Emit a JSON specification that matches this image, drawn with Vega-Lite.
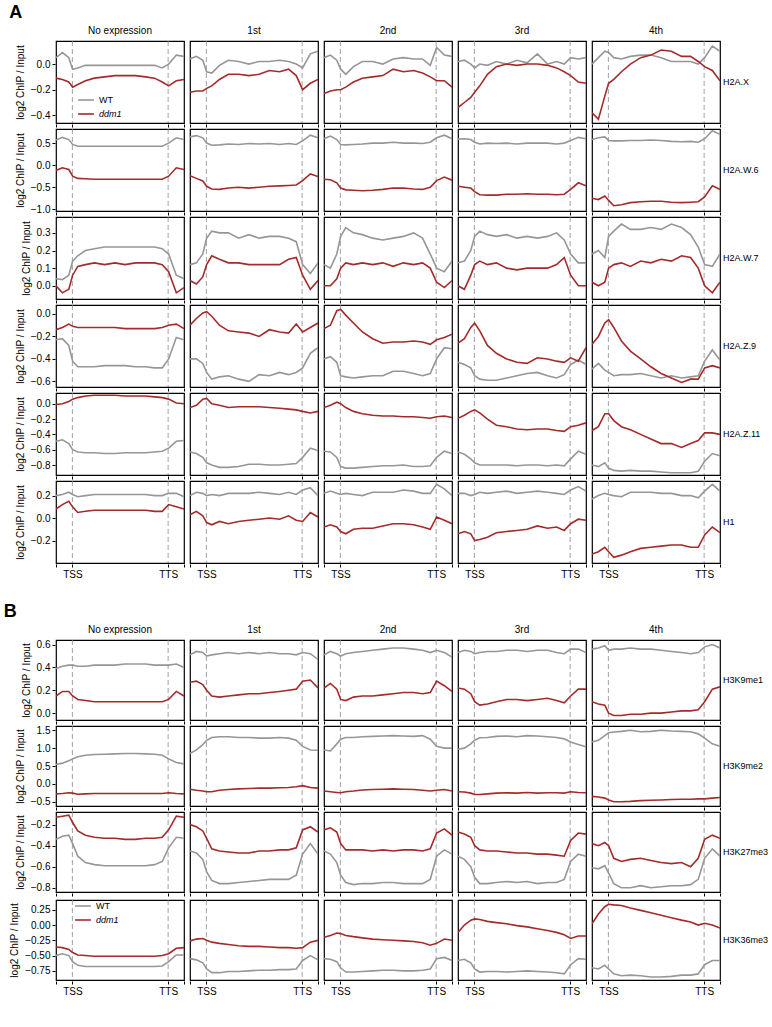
{
"$schema":"https://vega.github.io/schema/vega-lite/v6.json",
"padding":{"left":3,"top":4,"right":0,"bottom":0},
"data":{"values":[
{"m":"H2A.X","g":"WT","x":0,"n":0.05,"a":0.04,"b":0.05,"c":0.02,"d":0},
{"m":"H2A.X","g":"WT","x":5,"n":0.09,"a":0.06,"b":0.07,"c":0.03,"d":0.05},
{"m":"H2A.X","g":"WT","x":10,"n":0.05,"a":0.03,"b":0.03,"c":0,"d":0.1},
{"m":"H2A.X","g":"WT","x":13,"n":-0.04,"a":-0.06,"b":-0.04,"c":-0.03,"d":0.09},
{"m":"H2A.X","g":"WT","x":17,"n":-0.03,"a":-0.07,"b":-0.08,"c":0,"d":0.05},
{"m":"H2A.X","g":"WT","x":23,"n":-0.01,"a":-0.01,"b":-0.02,"c":-0.01,"d":0.04},
{"m":"H2A.X","g":"WT","x":30,"n":-0.01,"a":0.03,"b":0.02,"c":0.02,"d":0.06},
{"m":"H2A.X","g":"WT","x":38,"n":-0.01,"a":0.02,"b":0.02,"c":0,"d":0.07},
{"m":"H2A.X","g":"WT","x":46,"n":-0.01,"a":0,"b":0,"c":0.03,"d":0.07},
{"m":"H2A.X","g":"WT","x":54,"n":-0.01,"a":0.02,"b":0.04,"c":0.01,"d":0.05},
{"m":"H2A.X","g":"WT","x":62,"n":-0.01,"a":0.02,"b":0.05,"c":0.08,"d":0.02},
{"m":"H2A.X","g":"WT","x":70,"n":-0.01,"a":0.03,"b":0.04,"c":0,"d":0.02},
{"m":"H2A.X","g":"WT","x":77,"n":-0.01,"a":0.02,"b":0.04,"c":0.02,"d":0.02},
{"m":"H2A.X","g":"WT","x":83,"n":-0.03,"a":0,"b":-0.01,"c":0,"d":0},
{"m":"H2A.X","g":"WT","x":88,"n":0,"a":-0.03,"b":0.13,"c":0.05,"d":0.05},
{"m":"H2A.X","g":"WT","x":94,"n":0.07,"a":0.08,"b":0.07,"c":0.04,"d":0.14},
{"m":"H2A.X","g":"WT","x":100,"n":0.06,"a":0.1,"b":0.06,"c":0.05,"d":0.1},
{"m":"H2A.X","g":"ddm1","x":0,"n":-0.11,"a":-0.22,"b":-0.23,"c":-0.34,"d":-0.38},
{"m":"H2A.X","g":"ddm1","x":5,"n":-0.12,"a":-0.21,"b":-0.21,"c":-0.3,"d":-0.43},
{"m":"H2A.X","g":"ddm1","x":10,"n":-0.14,"a":-0.21,"b":-0.2,"c":-0.26,"d":-0.25},
{"m":"H2A.X","g":"ddm1","x":13,"n":-0.18,"a":-0.19,"b":-0.2,"c":-0.22,"d":-0.15},
{"m":"H2A.X","g":"ddm1","x":17,"n":-0.16,"a":-0.17,"b":-0.18,"c":-0.17,"d":-0.12},
{"m":"H2A.X","g":"ddm1","x":23,"n":-0.13,"a":-0.12,"b":-0.14,"c":-0.08,"d":-0.06},
{"m":"H2A.X","g":"ddm1","x":30,"n":-0.11,"a":-0.08,"b":-0.11,"c":-0.02,"d":0},
{"m":"H2A.X","g":"ddm1","x":38,"n":-0.1,"a":-0.08,"b":-0.1,"c":0,"d":0.05},
{"m":"H2A.X","g":"ddm1","x":46,"n":-0.09,"a":-0.09,"b":-0.09,"c":-0.01,"d":0.07},
{"m":"H2A.X","g":"ddm1","x":54,"n":-0.09,"a":-0.08,"b":-0.04,"c":0,"d":0.11},
{"m":"H2A.X","g":"ddm1","x":62,"n":-0.09,"a":-0.05,"b":-0.06,"c":0,"d":0.1},
{"m":"H2A.X","g":"ddm1","x":70,"n":-0.1,"a":-0.06,"b":-0.05,"c":-0.01,"d":0.06},
{"m":"H2A.X","g":"ddm1","x":77,"n":-0.11,"a":-0.04,"b":-0.07,"c":-0.03,"d":0.06},
{"m":"H2A.X","g":"ddm1","x":83,"n":-0.14,"a":-0.09,"b":-0.1,"c":-0.06,"d":0.02},
{"m":"H2A.X","g":"ddm1","x":88,"n":-0.17,"a":-0.2,"b":-0.13,"c":-0.09,"d":-0.02},
{"m":"H2A.X","g":"ddm1","x":94,"n":-0.13,"a":-0.15,"b":-0.13,"c":-0.14,"d":-0.05},
{"m":"H2A.X","g":"ddm1","x":100,"n":-0.12,"a":-0.12,"b":-0.18,"c":-0.15,"d":-0.13},
{"m":"H2A.W.6","g":"WT","x":0,"n":0.57,"a":0.64,"b":0.6,"c":0.59,"d":0.58},
{"m":"H2A.W.6","g":"WT","x":5,"n":0.63,"a":0.67,"b":0.66,"c":0.6,"d":0.62},
{"m":"H2A.W.6","g":"WT","x":10,"n":0.58,"a":0.62,"b":0.58,"c":0.58,"d":0.64},
{"m":"H2A.W.6","g":"WT","x":13,"n":0.47,"a":0.5,"b":0.47,"c":0.52,"d":0.56},
{"m":"H2A.W.6","g":"WT","x":17,"n":0.43,"a":0.45,"b":0.46,"c":0.48,"d":0.55},
{"m":"H2A.W.6","g":"WT","x":23,"n":0.43,"a":0.46,"b":0.47,"c":0.5,"d":0.55},
{"m":"H2A.W.6","g":"WT","x":30,"n":0.43,"a":0.48,"b":0.48,"c":0.49,"d":0.56},
{"m":"H2A.W.6","g":"WT","x":38,"n":0.43,"a":0.47,"b":0.5,"c":0.5,"d":0.56},
{"m":"H2A.W.6","g":"WT","x":46,"n":0.43,"a":0.49,"b":0.5,"c":0.48,"d":0.57},
{"m":"H2A.W.6","g":"WT","x":54,"n":0.43,"a":0.48,"b":0.52,"c":0.5,"d":0.56},
{"m":"H2A.W.6","g":"WT","x":62,"n":0.43,"a":0.49,"b":0.5,"c":0.5,"d":0.54},
{"m":"H2A.W.6","g":"WT","x":70,"n":0.43,"a":0.47,"b":0.5,"c":0.5,"d":0.53},
{"m":"H2A.W.6","g":"WT","x":77,"n":0.43,"a":0.49,"b":0.49,"c":0.48,"d":0.54},
{"m":"H2A.W.6","g":"WT","x":83,"n":0.43,"a":0.47,"b":0.52,"c":0.5,"d":0.52},
{"m":"H2A.W.6","g":"WT","x":88,"n":0.5,"a":0.55,"b":0.62,"c":0.56,"d":0.6},
{"m":"H2A.W.6","g":"WT","x":94,"n":0.62,"a":0.68,"b":0.68,"c":0.63,"d":0.78},
{"m":"H2A.W.6","g":"WT","x":100,"n":0.58,"a":0.62,"b":0.6,"c":0.6,"d":0.7},
{"m":"H2A.W.6","g":"ddm1","x":0,"n":-0.12,"a":-0.24,"b":-0.32,"c":-0.48,"d":-0.75},
{"m":"H2A.W.6","g":"ddm1","x":5,"n":-0.06,"a":-0.3,"b":-0.33,"c":-0.5,"d":-0.78},
{"m":"H2A.W.6","g":"ddm1","x":10,"n":-0.1,"a":-0.36,"b":-0.4,"c":-0.52,"d":-0.7},
{"m":"H2A.W.6","g":"ddm1","x":13,"n":-0.25,"a":-0.48,"b":-0.52,"c":-0.6,"d":-0.8},
{"m":"H2A.W.6","g":"ddm1","x":17,"n":-0.3,"a":-0.54,"b":-0.56,"c":-0.67,"d":-0.92},
{"m":"H2A.W.6","g":"ddm1","x":23,"n":-0.31,"a":-0.55,"b":-0.57,"c":-0.68,"d":-0.9},
{"m":"H2A.W.6","g":"ddm1","x":30,"n":-0.32,"a":-0.52,"b":-0.58,"c":-0.68,"d":-0.85},
{"m":"H2A.W.6","g":"ddm1","x":38,"n":-0.32,"a":-0.5,"b":-0.57,"c":-0.66,"d":-0.83},
{"m":"H2A.W.6","g":"ddm1","x":46,"n":-0.32,"a":-0.52,"b":-0.55,"c":-0.66,"d":-0.82},
{"m":"H2A.W.6","g":"ddm1","x":54,"n":-0.32,"a":-0.5,"b":-0.52,"c":-0.65,"d":-0.82},
{"m":"H2A.W.6","g":"ddm1","x":62,"n":-0.32,"a":-0.48,"b":-0.52,"c":-0.66,"d":-0.84},
{"m":"H2A.W.6","g":"ddm1","x":70,"n":-0.32,"a":-0.47,"b":-0.54,"c":-0.66,"d":-0.85},
{"m":"H2A.W.6","g":"ddm1","x":77,"n":-0.32,"a":-0.46,"b":-0.55,"c":-0.67,"d":-0.84},
{"m":"H2A.W.6","g":"ddm1","x":83,"n":-0.32,"a":-0.45,"b":-0.5,"c":-0.66,"d":-0.83},
{"m":"H2A.W.6","g":"ddm1","x":88,"n":-0.25,"a":-0.35,"b":-0.35,"c":-0.55,"d":-0.72},
{"m":"H2A.W.6","g":"ddm1","x":94,"n":-0.06,"a":-0.2,"b":-0.27,"c":-0.4,"d":-0.47},
{"m":"H2A.W.6","g":"ddm1","x":100,"n":-0.1,"a":-0.26,"b":-0.34,"c":-0.47,"d":-0.55},
{"m":"H2A.W.7","g":"WT","x":0,"n":0.04,"a":0.12,"b":0.12,"c":0.13,"d":0.18},
{"m":"H2A.W.7","g":"WT","x":5,"n":0.035,"a":0.13,"b":0.1,"c":0.14,"d":0.2},
{"m":"H2A.W.7","g":"WT","x":10,"n":0.06,"a":0.18,"b":0.18,"c":0.2,"d":0.16},
{"m":"H2A.W.7","g":"WT","x":13,"n":0.14,"a":0.27,"b":0.28,"c":0.28,"d":0.28},
{"m":"H2A.W.7","g":"WT","x":17,"n":0.17,"a":0.31,"b":0.33,"c":0.31,"d":0.31},
{"m":"H2A.W.7","g":"WT","x":23,"n":0.2,"a":0.3,"b":0.3,"c":0.29,"d":0.35},
{"m":"H2A.W.7","g":"WT","x":30,"n":0.21,"a":0.3,"b":0.29,"c":0.28,"d":0.32},
{"m":"H2A.W.7","g":"WT","x":38,"n":0.22,"a":0.27,"b":0.27,"c":0.29,"d":0.32},
{"m":"H2A.W.7","g":"WT","x":46,"n":0.22,"a":0.29,"b":0.26,"c":0.27,"d":0.33},
{"m":"H2A.W.7","g":"WT","x":54,"n":0.22,"a":0.27,"b":0.27,"c":0.28,"d":0.32},
{"m":"H2A.W.7","g":"WT","x":62,"n":0.22,"a":0.28,"b":0.28,"c":0.27,"d":0.35},
{"m":"H2A.W.7","g":"WT","x":70,"n":0.22,"a":0.28,"b":0.3,"c":0.28,"d":0.33},
{"m":"H2A.W.7","g":"WT","x":77,"n":0.22,"a":0.27,"b":0.27,"c":0.3,"d":0.29},
{"m":"H2A.W.7","g":"WT","x":83,"n":0.21,"a":0.25,"b":0.18,"c":0.26,"d":0.22},
{"m":"H2A.W.7","g":"WT","x":88,"n":0.18,"a":0.12,"b":0.1,"c":0.18,"d":0.12},
{"m":"H2A.W.7","g":"WT","x":94,"n":0.06,"a":0.07,"b":0.08,"c":0.13,"d":0.11},
{"m":"H2A.W.7","g":"WT","x":100,"n":0.04,"a":0.13,"b":0.14,"c":0.13,"d":0.18},
{"m":"H2A.W.7","g":"ddm1","x":0,"n":0,"a":0.03,"b":0,"c":0,"d":0.02},
{"m":"H2A.W.7","g":"ddm1","x":5,"n":-0.04,"a":0.01,"b":0,"c":-0.02,"d":0},
{"m":"H2A.W.7","g":"ddm1","x":10,"n":-0.02,"a":0.05,"b":0.04,"c":0.06,"d":0.02},
{"m":"H2A.W.7","g":"ddm1","x":13,"n":0.06,"a":0.12,"b":0.1,"c":0.12,"d":0.1},
{"m":"H2A.W.7","g":"ddm1","x":17,"n":0.11,"a":0.17,"b":0.13,"c":0.14,"d":0.12},
{"m":"H2A.W.7","g":"ddm1","x":23,"n":0.12,"a":0.15,"b":0.12,"c":0.12,"d":0.13},
{"m":"H2A.W.7","g":"ddm1","x":30,"n":0.13,"a":0.13,"b":0.13,"c":0.13,"d":0.11},
{"m":"H2A.W.7","g":"ddm1","x":38,"n":0.12,"a":0.13,"b":0.12,"c":0.1,"d":0.14},
{"m":"H2A.W.7","g":"ddm1","x":46,"n":0.13,"a":0.12,"b":0.13,"c":0.09,"d":0.13},
{"m":"H2A.W.7","g":"ddm1","x":54,"n":0.12,"a":0.12,"b":0.11,"c":0.1,"d":0.15},
{"m":"H2A.W.7","g":"ddm1","x":62,"n":0.13,"a":0.12,"b":0.13,"c":0.1,"d":0.14},
{"m":"H2A.W.7","g":"ddm1","x":70,"n":0.13,"a":0.12,"b":0.12,"c":0.1,"d":0.17},
{"m":"H2A.W.7","g":"ddm1","x":77,"n":0.13,"a":0.15,"b":0.13,"c":0.12,"d":0.16},
{"m":"H2A.W.7","g":"ddm1","x":83,"n":0.12,"a":0.16,"b":0.1,"c":0.16,"d":0.1},
{"m":"H2A.W.7","g":"ddm1","x":88,"n":0.08,"a":0.06,"b":0.02,"c":0.06,"d":0},
{"m":"H2A.W.7","g":"ddm1","x":94,"n":-0.04,"a":-0.02,"b":-0.01,"c":0,"d":-0.04},
{"m":"H2A.W.7","g":"ddm1","x":100,"n":-0.01,"a":0.03,"b":0.03,"c":0,"d":0.02},
{"m":"H2A.Z.9","g":"WT","x":0,"n":-0.23,"a":-0.4,"b":-0.4,"c":-0.43,"d":-0.49},
{"m":"H2A.Z.9","g":"WT","x":5,"n":-0.22,"a":-0.4,"b":-0.38,"c":-0.45,"d":-0.44},
{"m":"H2A.Z.9","g":"WT","x":10,"n":-0.28,"a":-0.44,"b":-0.43,"c":-0.48,"d":-0.5},
{"m":"H2A.Z.9","g":"WT","x":13,"n":-0.42,"a":-0.52,"b":-0.55,"c":-0.55,"d":-0.52},
{"m":"H2A.Z.9","g":"WT","x":17,"n":-0.47,"a":-0.58,"b":-0.56,"c":-0.58,"d":-0.55},
{"m":"H2A.Z.9","g":"WT","x":23,"n":-0.47,"a":-0.56,"b":-0.57,"c":-0.59,"d":-0.54},
{"m":"H2A.Z.9","g":"WT","x":30,"n":-0.47,"a":-0.55,"b":-0.56,"c":-0.59,"d":-0.54},
{"m":"H2A.Z.9","g":"WT","x":38,"n":-0.46,"a":-0.58,"b":-0.55,"c":-0.57,"d":-0.53},
{"m":"H2A.Z.9","g":"WT","x":46,"n":-0.46,"a":-0.6,"b":-0.55,"c":-0.55,"d":-0.55},
{"m":"H2A.Z.9","g":"WT","x":54,"n":-0.46,"a":-0.54,"b":-0.51,"c":-0.53,"d":-0.57},
{"m":"H2A.Z.9","g":"WT","x":62,"n":-0.47,"a":-0.55,"b":-0.51,"c":-0.52,"d":-0.55},
{"m":"H2A.Z.9","g":"WT","x":70,"n":-0.47,"a":-0.52,"b":-0.53,"c":-0.55,"d":-0.57},
{"m":"H2A.Z.9","g":"WT","x":77,"n":-0.48,"a":-0.54,"b":-0.55,"c":-0.57,"d":-0.56},
{"m":"H2A.Z.9","g":"WT","x":83,"n":-0.48,"a":-0.52,"b":-0.53,"c":-0.54,"d":-0.55},
{"m":"H2A.Z.9","g":"WT","x":88,"n":-0.4,"a":-0.48,"b":-0.4,"c":-0.45,"d":-0.42},
{"m":"H2A.Z.9","g":"WT","x":94,"n":-0.21,"a":-0.35,"b":-0.3,"c":-0.41,"d":-0.32},
{"m":"H2A.Z.9","g":"WT","x":100,"n":-0.23,"a":-0.3,"b":-0.31,"c":-0.45,"d":-0.41},
{"m":"H2A.Z.9","g":"ddm1","x":0,"n":-0.14,"a":-0.1,"b":-0.13,"c":-0.26,"d":-0.27},
{"m":"H2A.Z.9","g":"ddm1","x":5,"n":-0.12,"a":-0.04,"b":-0.1,"c":-0.22,"d":-0.2},
{"m":"H2A.Z.9","g":"ddm1","x":10,"n":-0.09,"a":0.01,"b":0.03,"c":-0.12,"d":-0.08},
{"m":"H2A.Z.9","g":"ddm1","x":13,"n":-0.11,"a":0.02,"b":0.04,"c":-0.08,"d":-0.05},
{"m":"H2A.Z.9","g":"ddm1","x":17,"n":-0.12,"a":-0.02,"b":-0.01,"c":-0.15,"d":-0.12},
{"m":"H2A.Z.9","g":"ddm1","x":23,"n":-0.12,"a":-0.1,"b":-0.08,"c":-0.28,"d":-0.24},
{"m":"H2A.Z.9","g":"ddm1","x":30,"n":-0.12,"a":-0.15,"b":-0.16,"c":-0.35,"d":-0.33},
{"m":"H2A.Z.9","g":"ddm1","x":38,"n":-0.12,"a":-0.16,"b":-0.22,"c":-0.4,"d":-0.4},
{"m":"H2A.Z.9","g":"ddm1","x":46,"n":-0.12,"a":-0.17,"b":-0.26,"c":-0.43,"d":-0.47},
{"m":"H2A.Z.9","g":"ddm1","x":54,"n":-0.13,"a":-0.2,"b":-0.25,"c":-0.44,"d":-0.53},
{"m":"H2A.Z.9","g":"ddm1","x":62,"n":-0.13,"a":-0.14,"b":-0.25,"c":-0.39,"d":-0.57},
{"m":"H2A.Z.9","g":"ddm1","x":70,"n":-0.13,"a":-0.16,"b":-0.24,"c":-0.4,"d":-0.61},
{"m":"H2A.Z.9","g":"ddm1","x":77,"n":-0.13,"a":-0.17,"b":-0.25,"c":-0.42,"d":-0.58},
{"m":"H2A.Z.9","g":"ddm1","x":83,"n":-0.12,"a":-0.09,"b":-0.27,"c":-0.43,"d":-0.58},
{"m":"H2A.Z.9","g":"ddm1","x":88,"n":-0.1,"a":-0.16,"b":-0.23,"c":-0.39,"d":-0.48},
{"m":"H2A.Z.9","g":"ddm1","x":94,"n":-0.09,"a":-0.12,"b":-0.21,"c":-0.42,"d":-0.46},
{"m":"H2A.Z.9","g":"ddm1","x":100,"n":-0.13,"a":-0.08,"b":-0.18,"c":-0.3,"d":-0.48},
{"m":"H2A.Z.11","g":"WT","x":0,"n":-0.49,"a":-0.63,"b":-0.62,"c":-0.63,"d":-0.8},
{"m":"H2A.Z.11","g":"WT","x":5,"n":-0.47,"a":-0.65,"b":-0.63,"c":-0.66,"d":-0.82},
{"m":"H2A.Z.11","g":"WT","x":10,"n":-0.52,"a":-0.7,"b":-0.7,"c":-0.72,"d":-0.77},
{"m":"H2A.Z.11","g":"WT","x":13,"n":-0.6,"a":-0.77,"b":-0.82,"c":-0.77,"d":-0.84},
{"m":"H2A.Z.11","g":"WT","x":17,"n":-0.63,"a":-0.8,"b":-0.84,"c":-0.8,"d":-0.87},
{"m":"H2A.Z.11","g":"WT","x":23,"n":-0.64,"a":-0.83,"b":-0.84,"c":-0.8,"d":-0.88},
{"m":"H2A.Z.11","g":"WT","x":30,"n":-0.64,"a":-0.83,"b":-0.83,"c":-0.8,"d":-0.87},
{"m":"H2A.Z.11","g":"WT","x":38,"n":-0.65,"a":-0.82,"b":-0.82,"c":-0.8,"d":-0.88},
{"m":"H2A.Z.11","g":"WT","x":46,"n":-0.65,"a":-0.79,"b":-0.81,"c":-0.81,"d":-0.88},
{"m":"H2A.Z.11","g":"WT","x":54,"n":-0.64,"a":-0.79,"b":-0.81,"c":-0.8,"d":-0.89},
{"m":"H2A.Z.11","g":"WT","x":62,"n":-0.64,"a":-0.8,"b":-0.8,"c":-0.8,"d":-0.9},
{"m":"H2A.Z.11","g":"WT","x":70,"n":-0.64,"a":-0.8,"b":-0.82,"c":-0.81,"d":-0.9},
{"m":"H2A.Z.11","g":"WT","x":77,"n":-0.63,"a":-0.79,"b":-0.82,"c":-0.8,"d":-0.9},
{"m":"H2A.Z.11","g":"WT","x":83,"n":-0.62,"a":-0.78,"b":-0.81,"c":-0.81,"d":-0.88},
{"m":"H2A.Z.11","g":"WT","x":88,"n":-0.58,"a":-0.7,"b":-0.7,"c":-0.72,"d":-0.75},
{"m":"H2A.Z.11","g":"WT","x":94,"n":-0.49,"a":-0.58,"b":-0.62,"c":-0.62,"d":-0.65},
{"m":"H2A.Z.11","g":"WT","x":100,"n":-0.48,"a":-0.61,"b":-0.65,"c":-0.66,"d":-0.68},
{"m":"H2A.Z.11","g":"ddm1","x":0,"n":-0.01,"a":-0.05,"b":-0.05,"c":-0.19,"d":-0.35},
{"m":"H2A.Z.11","g":"ddm1","x":5,"n":0,"a":-0.02,"b":-0.02,"c":-0.15,"d":-0.3},
{"m":"H2A.Z.11","g":"ddm1","x":10,"n":0.03,"a":0.06,"b":0.02,"c":-0.1,"d":-0.13},
{"m":"H2A.Z.11","g":"ddm1","x":13,"n":0.06,"a":0.07,"b":0,"c":-0.08,"d":-0.13},
{"m":"H2A.Z.11","g":"ddm1","x":17,"n":0.08,"a":0,"b":-0.05,"c":-0.12,"d":-0.22},
{"m":"H2A.Z.11","g":"ddm1","x":23,"n":0.1,"a":-0.02,"b":-0.1,"c":-0.2,"d":-0.3},
{"m":"H2A.Z.11","g":"ddm1","x":30,"n":0.11,"a":-0.05,"b":-0.13,"c":-0.28,"d":-0.34},
{"m":"H2A.Z.11","g":"ddm1","x":38,"n":0.11,"a":-0.04,"b":-0.15,"c":-0.3,"d":-0.4},
{"m":"H2A.Z.11","g":"ddm1","x":46,"n":0.11,"a":-0.04,"b":-0.16,"c":-0.33,"d":-0.46},
{"m":"H2A.Z.11","g":"ddm1","x":54,"n":0.1,"a":-0.04,"b":-0.16,"c":-0.34,"d":-0.52},
{"m":"H2A.Z.11","g":"ddm1","x":62,"n":0.1,"a":-0.05,"b":-0.17,"c":-0.33,"d":-0.52},
{"m":"H2A.Z.11","g":"ddm1","x":70,"n":0.1,"a":-0.06,"b":-0.17,"c":-0.33,"d":-0.57},
{"m":"H2A.Z.11","g":"ddm1","x":77,"n":0.09,"a":-0.07,"b":-0.18,"c":-0.35,"d":-0.52},
{"m":"H2A.Z.11","g":"ddm1","x":83,"n":0.08,"a":-0.08,"b":-0.19,"c":-0.36,"d":-0.48},
{"m":"H2A.Z.11","g":"ddm1","x":88,"n":0.06,"a":-0.1,"b":-0.17,"c":-0.3,"d":-0.38},
{"m":"H2A.Z.11","g":"ddm1","x":94,"n":0.01,"a":-0.12,"b":-0.16,"c":-0.28,"d":-0.38},
{"m":"H2A.Z.11","g":"ddm1","x":100,"n":0,"a":-0.1,"b":-0.18,"c":-0.25,"d":-0.4},
{"m":"H1","g":"WT","x":0,"n":0.2,"a":0.2,"b":0.22,"c":0.22,"d":0.17},
{"m":"H1","g":"WT","x":5,"n":0.21,"a":0.23,"b":0.24,"c":0.22,"d":0.2},
{"m":"H1","g":"WT","x":10,"n":0.23,"a":0.22,"b":0.22,"c":0.2,"d":0.22},
{"m":"H1","g":"WT","x":13,"n":0.21,"a":0.2,"b":0.21,"c":0.21,"d":0.21},
{"m":"H1","g":"WT","x":17,"n":0.19,"a":0.21,"b":0.22,"c":0.23,"d":0.2},
{"m":"H1","g":"WT","x":23,"n":0.2,"a":0.2,"b":0.21,"c":0.22,"d":0.19},
{"m":"H1","g":"WT","x":30,"n":0.21,"a":0.22,"b":0.2,"c":0.23,"d":0.23},
{"m":"H1","g":"WT","x":38,"n":0.21,"a":0.22,"b":0.23,"c":0.24,"d":0.23},
{"m":"H1","g":"WT","x":46,"n":0.21,"a":0.22,"b":0.23,"c":0.22,"d":0.23},
{"m":"H1","g":"WT","x":54,"n":0.21,"a":0.23,"b":0.23,"c":0.23,"d":0.22},
{"m":"H1","g":"WT","x":62,"n":0.21,"a":0.22,"b":0.25,"c":0.24,"d":0.22},
{"m":"H1","g":"WT","x":70,"n":0.21,"a":0.21,"b":0.24,"c":0.23,"d":0.2},
{"m":"H1","g":"WT","x":77,"n":0.2,"a":0.23,"b":0.22,"c":0.22,"d":0.2},
{"m":"H1","g":"WT","x":83,"n":0.2,"a":0.21,"b":0.22,"c":0.21,"d":0.18},
{"m":"H1","g":"WT","x":88,"n":0.22,"a":0.25,"b":0.3,"c":0.25,"d":0.24},
{"m":"H1","g":"WT","x":94,"n":0.22,"a":0.27,"b":0.26,"c":0.28,"d":0.3},
{"m":"H1","g":"WT","x":100,"n":0.19,"a":0.2,"b":0.2,"c":0.24,"d":0.24},
{"m":"H1","g":"ddm1","x":0,"n":0.08,"a":0.03,"b":-0.08,"c":-0.14,"d":-0.32},
{"m":"H1","g":"ddm1","x":5,"n":0.12,"a":0.06,"b":-0.06,"c":-0.12,"d":-0.3},
{"m":"H1","g":"ddm1","x":10,"n":0.15,"a":0.02,"b":-0.08,"c":-0.14,"d":-0.26},
{"m":"H1","g":"ddm1","x":13,"n":0.1,"a":-0.04,"b":-0.12,"c":-0.2,"d":-0.3},
{"m":"H1","g":"ddm1","x":17,"n":0.05,"a":-0.06,"b":-0.14,"c":-0.19,"d":-0.35},
{"m":"H1","g":"ddm1","x":23,"n":0.06,"a":-0.03,"b":-0.1,"c":-0.17,"d":-0.33},
{"m":"H1","g":"ddm1","x":30,"n":0.07,"a":-0.05,"b":-0.09,"c":-0.13,"d":-0.3},
{"m":"H1","g":"ddm1","x":38,"n":0.07,"a":-0.03,"b":-0.09,"c":-0.12,"d":-0.27},
{"m":"H1","g":"ddm1","x":46,"n":0.07,"a":-0.02,"b":-0.07,"c":-0.11,"d":-0.26},
{"m":"H1","g":"ddm1","x":54,"n":0.07,"a":-0.01,"b":-0.05,"c":-0.1,"d":-0.25},
{"m":"H1","g":"ddm1","x":62,"n":0.07,"a":0,"b":-0.05,"c":-0.07,"d":-0.24},
{"m":"H1","g":"ddm1","x":70,"n":0.07,"a":-0.01,"b":-0.06,"c":-0.09,"d":-0.24},
{"m":"H1","g":"ddm1","x":77,"n":0.06,"a":0.02,"b":-0.08,"c":-0.08,"d":-0.26},
{"m":"H1","g":"ddm1","x":83,"n":0.06,"a":-0.02,"b":-0.1,"c":-0.11,"d":-0.26},
{"m":"H1","g":"ddm1","x":88,"n":0.12,"a":-0.03,"b":0.01,"c":-0.05,"d":-0.15},
{"m":"H1","g":"ddm1","x":94,"n":0.1,"a":0.05,"b":-0.02,"c":-0.01,"d":-0.08},
{"m":"H1","g":"ddm1","x":100,"n":0.08,"a":0.01,"b":-0.05,"c":-0.02,"d":-0.13},
{"m":"H3K9me1","g":"WT","x":0,"n":0.39,"a":0.51,"b":0.51,"c":0.53,"d":0.56},
{"m":"H3K9me1","g":"WT","x":5,"n":0.41,"a":0.54,"b":0.54,"c":0.55,"d":0.57},
{"m":"H3K9me1","g":"WT","x":10,"n":0.42,"a":0.53,"b":0.52,"c":0.54,"d":0.59},
{"m":"H3K9me1","g":"WT","x":13,"n":0.42,"a":0.5,"b":0.5,"c":0.52,"d":0.55},
{"m":"H3K9me1","g":"WT","x":17,"n":0.41,"a":0.51,"b":0.52,"c":0.53,"d":0.56},
{"m":"H3K9me1","g":"WT","x":23,"n":0.41,"a":0.52,"b":0.53,"c":0.54,"d":0.56},
{"m":"H3K9me1","g":"WT","x":30,"n":0.42,"a":0.53,"b":0.54,"c":0.54,"d":0.57},
{"m":"H3K9me1","g":"WT","x":38,"n":0.42,"a":0.52,"b":0.55,"c":0.55,"d":0.56},
{"m":"H3K9me1","g":"WT","x":46,"n":0.42,"a":0.53,"b":0.56,"c":0.55,"d":0.56},
{"m":"H3K9me1","g":"WT","x":54,"n":0.43,"a":0.52,"b":0.57,"c":0.54,"d":0.55},
{"m":"H3K9me1","g":"WT","x":62,"n":0.43,"a":0.53,"b":0.57,"c":0.55,"d":0.54},
{"m":"H3K9me1","g":"WT","x":70,"n":0.43,"a":0.52,"b":0.56,"c":0.55,"d":0.53},
{"m":"H3K9me1","g":"WT","x":77,"n":0.42,"a":0.52,"b":0.55,"c":0.53,"d":0.52},
{"m":"H3K9me1","g":"WT","x":83,"n":0.42,"a":0.51,"b":0.53,"c":0.52,"d":0.53},
{"m":"H3K9me1","g":"WT","x":88,"n":0.42,"a":0.53,"b":0.55,"c":0.56,"d":0.58},
{"m":"H3K9me1","g":"WT","x":94,"n":0.43,"a":0.52,"b":0.53,"c":0.56,"d":0.6},
{"m":"H3K9me1","g":"WT","x":100,"n":0.4,"a":0.47,"b":0.49,"c":0.53,"d":0.57},
{"m":"H3K9me1","g":"ddm1","x":0,"n":0.15,"a":0.27,"b":0.22,"c":0.22,"d":0.1},
{"m":"H3K9me1","g":"ddm1","x":5,"n":0.19,"a":0.28,"b":0.26,"c":0.21,"d":0.08},
{"m":"H3K9me1","g":"ddm1","x":10,"n":0.19,"a":0.25,"b":0.21,"c":0.17,"d":0.07},
{"m":"H3K9me1","g":"ddm1","x":13,"n":0.15,"a":0.2,"b":0.12,"c":0.1,"d":0},
{"m":"H3K9me1","g":"ddm1","x":17,"n":0.12,"a":0.15,"b":0.11,"c":0.07,"d":-0.02},
{"m":"H3K9me1","g":"ddm1","x":23,"n":0.11,"a":0.14,"b":0.14,"c":0.08,"d":-0.02},
{"m":"H3K9me1","g":"ddm1","x":30,"n":0.1,"a":0.15,"b":0.15,"c":0.1,"d":-0.01},
{"m":"H3K9me1","g":"ddm1","x":38,"n":0.1,"a":0.16,"b":0.15,"c":0.12,"d":-0.01},
{"m":"H3K9me1","g":"ddm1","x":46,"n":0.1,"a":0.17,"b":0.16,"c":0.12,"d":0},
{"m":"H3K9me1","g":"ddm1","x":54,"n":0.1,"a":0.17,"b":0.17,"c":0.11,"d":0},
{"m":"H3K9me1","g":"ddm1","x":62,"n":0.1,"a":0.18,"b":0.18,"c":0.12,"d":0.01},
{"m":"H3K9me1","g":"ddm1","x":70,"n":0.1,"a":0.19,"b":0.18,"c":0.13,"d":0.02},
{"m":"H3K9me1","g":"ddm1","x":77,"n":0.1,"a":0.2,"b":0.17,"c":0.11,"d":0.02},
{"m":"H3K9me1","g":"ddm1","x":83,"n":0.1,"a":0.21,"b":0.18,"c":0.09,"d":0.03},
{"m":"H3K9me1","g":"ddm1","x":88,"n":0.12,"a":0.28,"b":0.28,"c":0.15,"d":0.1},
{"m":"H3K9me1","g":"ddm1","x":94,"n":0.19,"a":0.29,"b":0.24,"c":0.21,"d":0.21},
{"m":"H3K9me1","g":"ddm1","x":100,"n":0.15,"a":0.22,"b":0.19,"c":0.21,"d":0.23},
{"m":"H3K9me2","g":"WT","x":0,"n":0.54,"a":0.85,"b":0.95,"c":0.97,"d":1.17},
{"m":"H3K9me2","g":"WT","x":5,"n":0.58,"a":0.95,"b":0.92,"c":1,"d":1.22},
{"m":"H3K9me2","g":"WT","x":10,"n":0.65,"a":1.1,"b":1.12,"c":1.12,"d":1.35},
{"m":"H3K9me2","g":"WT","x":13,"n":0.7,"a":1.22,"b":1.25,"c":1.22,"d":1.43},
{"m":"H3K9me2","g":"WT","x":17,"n":0.76,"a":1.3,"b":1.3,"c":1.29,"d":1.45},
{"m":"H3K9me2","g":"WT","x":23,"n":0.8,"a":1.32,"b":1.3,"c":1.3,"d":1.47},
{"m":"H3K9me2","g":"WT","x":30,"n":0.82,"a":1.32,"b":1.32,"c":1.33,"d":1.5},
{"m":"H3K9me2","g":"WT","x":38,"n":0.83,"a":1.3,"b":1.33,"c":1.34,"d":1.46},
{"m":"H3K9me2","g":"WT","x":46,"n":0.84,"a":1.3,"b":1.34,"c":1.32,"d":1.47},
{"m":"H3K9me2","g":"WT","x":54,"n":0.85,"a":1.28,"b":1.35,"c":1.35,"d":1.5},
{"m":"H3K9me2","g":"WT","x":62,"n":0.85,"a":1.28,"b":1.34,"c":1.34,"d":1.48},
{"m":"H3K9me2","g":"WT","x":70,"n":0.84,"a":1.3,"b":1.33,"c":1.32,"d":1.47},
{"m":"H3K9me2","g":"WT","x":77,"n":0.83,"a":1.28,"b":1.35,"c":1.3,"d":1.46},
{"m":"H3K9me2","g":"WT","x":83,"n":0.8,"a":1.22,"b":1.25,"c":1.26,"d":1.4},
{"m":"H3K9me2","g":"WT","x":88,"n":0.7,"a":1.05,"b":1.05,"c":1.17,"d":1.28},
{"m":"H3K9me2","g":"WT","x":94,"n":0.6,"a":0.95,"b":1,"c":1.1,"d":1.12},
{"m":"H3K9me2","g":"WT","x":100,"n":0.56,"a":0.94,"b":1,"c":1.04,"d":1.05},
{"m":"H3K9me2","g":"ddm1","x":0,"n":-0.28,"a":-0.15,"b":-0.2,"c":-0.22,"d":-0.35},
{"m":"H3K9me2","g":"ddm1","x":5,"n":-0.27,"a":-0.18,"b":-0.22,"c":-0.23,"d":-0.37},
{"m":"H3K9me2","g":"ddm1","x":10,"n":-0.25,"a":-0.2,"b":-0.24,"c":-0.26,"d":-0.4},
{"m":"H3K9me2","g":"ddm1","x":13,"n":-0.26,"a":-0.22,"b":-0.25,"c":-0.3,"d":-0.45},
{"m":"H3K9me2","g":"ddm1","x":17,"n":-0.29,"a":-0.22,"b":-0.22,"c":-0.3,"d":-0.5},
{"m":"H3K9me2","g":"ddm1","x":23,"n":-0.28,"a":-0.18,"b":-0.2,"c":-0.28,"d":-0.5},
{"m":"H3K9me2","g":"ddm1","x":30,"n":-0.27,"a":-0.16,"b":-0.17,"c":-0.26,"d":-0.49},
{"m":"H3K9me2","g":"ddm1","x":38,"n":-0.27,"a":-0.14,"b":-0.16,"c":-0.25,"d":-0.47},
{"m":"H3K9me2","g":"ddm1","x":46,"n":-0.27,"a":-0.13,"b":-0.15,"c":-0.26,"d":-0.46},
{"m":"H3K9me2","g":"ddm1","x":54,"n":-0.27,"a":-0.12,"b":-0.14,"c":-0.24,"d":-0.45},
{"m":"H3K9me2","g":"ddm1","x":62,"n":-0.27,"a":-0.12,"b":-0.15,"c":-0.26,"d":-0.44},
{"m":"H3K9me2","g":"ddm1","x":70,"n":-0.27,"a":-0.11,"b":-0.16,"c":-0.25,"d":-0.43},
{"m":"H3K9me2","g":"ddm1","x":77,"n":-0.27,"a":-0.1,"b":-0.18,"c":-0.25,"d":-0.43},
{"m":"H3K9me2","g":"ddm1","x":83,"n":-0.27,"a":-0.08,"b":-0.2,"c":-0.26,"d":-0.42},
{"m":"H3K9me2","g":"ddm1","x":88,"n":-0.25,"a":-0.05,"b":-0.18,"c":-0.22,"d":-0.42},
{"m":"H3K9me2","g":"ddm1","x":94,"n":-0.27,"a":-0.1,"b":-0.16,"c":-0.24,"d":-0.4},
{"m":"H3K9me2","g":"ddm1","x":100,"n":-0.28,"a":-0.12,"b":-0.2,"c":-0.25,"d":-0.38},
{"m":"H3K27me3","g":"WT","x":0,"n":-0.34,"a":-0.45,"b":-0.45,"c":-0.5,"d":-0.61},
{"m":"H3K27me3","g":"WT","x":5,"n":-0.31,"a":-0.47,"b":-0.48,"c":-0.53,"d":-0.62},
{"m":"H3K27me3","g":"WT","x":10,"n":-0.3,"a":-0.53,"b":-0.56,"c":-0.6,"d":-0.59},
{"m":"H3K27me3","g":"WT","x":13,"n":-0.38,"a":-0.65,"b":-0.68,"c":-0.7,"d":-0.66},
{"m":"H3K27me3","g":"WT","x":17,"n":-0.5,"a":-0.73,"b":-0.75,"c":-0.76,"d":-0.76},
{"m":"H3K27me3","g":"WT","x":23,"n":-0.56,"a":-0.76,"b":-0.77,"c":-0.76,"d":-0.8},
{"m":"H3K27me3","g":"WT","x":30,"n":-0.58,"a":-0.76,"b":-0.76,"c":-0.75,"d":-0.8},
{"m":"H3K27me3","g":"WT","x":38,"n":-0.59,"a":-0.75,"b":-0.76,"c":-0.74,"d":-0.78},
{"m":"H3K27me3","g":"WT","x":46,"n":-0.59,"a":-0.74,"b":-0.75,"c":-0.75,"d":-0.8},
{"m":"H3K27me3","g":"WT","x":54,"n":-0.59,"a":-0.73,"b":-0.75,"c":-0.74,"d":-0.79},
{"m":"H3K27me3","g":"WT","x":62,"n":-0.59,"a":-0.72,"b":-0.76,"c":-0.76,"d":-0.78},
{"m":"H3K27me3","g":"WT","x":70,"n":-0.59,"a":-0.72,"b":-0.76,"c":-0.75,"d":-0.78},
{"m":"H3K27me3","g":"WT","x":77,"n":-0.58,"a":-0.72,"b":-0.76,"c":-0.75,"d":-0.77},
{"m":"H3K27me3","g":"WT","x":83,"n":-0.55,"a":-0.68,"b":-0.72,"c":-0.72,"d":-0.72},
{"m":"H3K27me3","g":"WT","x":88,"n":-0.42,"a":-0.48,"b":-0.5,"c":-0.55,"d":-0.52},
{"m":"H3K27me3","g":"WT","x":94,"n":-0.32,"a":-0.38,"b":-0.44,"c":-0.48,"d":-0.43},
{"m":"H3K27me3","g":"WT","x":100,"n":-0.33,"a":-0.48,"b":-0.48,"c":-0.5,"d":-0.5},
{"m":"H3K27me3","g":"ddm1","x":0,"n":-0.13,"a":-0.2,"b":-0.25,"c":-0.27,"d":-0.38},
{"m":"H3K27me3","g":"ddm1","x":5,"n":-0.12,"a":-0.22,"b":-0.23,"c":-0.29,"d":-0.4},
{"m":"H3K27me3","g":"ddm1","x":10,"n":-0.11,"a":-0.26,"b":-0.27,"c":-0.32,"d":-0.37},
{"m":"H3K27me3","g":"ddm1","x":13,"n":-0.18,"a":-0.33,"b":-0.38,"c":-0.4,"d":-0.4},
{"m":"H3K27me3","g":"ddm1","x":17,"n":-0.26,"a":-0.43,"b":-0.44,"c":-0.44,"d":-0.52},
{"m":"H3K27me3","g":"ddm1","x":23,"n":-0.3,"a":-0.45,"b":-0.44,"c":-0.45,"d":-0.55},
{"m":"H3K27me3","g":"ddm1","x":30,"n":-0.32,"a":-0.46,"b":-0.44,"c":-0.45,"d":-0.53},
{"m":"H3K27me3","g":"ddm1","x":38,"n":-0.33,"a":-0.47,"b":-0.45,"c":-0.46,"d":-0.52},
{"m":"H3K27me3","g":"ddm1","x":46,"n":-0.33,"a":-0.47,"b":-0.44,"c":-0.47,"d":-0.54},
{"m":"H3K27me3","g":"ddm1","x":54,"n":-0.34,"a":-0.45,"b":-0.45,"c":-0.47,"d":-0.56},
{"m":"H3K27me3","g":"ddm1","x":62,"n":-0.34,"a":-0.45,"b":-0.44,"c":-0.48,"d":-0.57},
{"m":"H3K27me3","g":"ddm1","x":70,"n":-0.33,"a":-0.44,"b":-0.44,"c":-0.48,"d":-0.56},
{"m":"H3K27me3","g":"ddm1","x":77,"n":-0.33,"a":-0.44,"b":-0.45,"c":-0.49,"d":-0.6},
{"m":"H3K27me3","g":"ddm1","x":83,"n":-0.32,"a":-0.42,"b":-0.43,"c":-0.5,"d":-0.52},
{"m":"H3K27me3","g":"ddm1","x":88,"n":-0.25,"a":-0.25,"b":-0.28,"c":-0.35,"d":-0.34},
{"m":"H3K27me3","g":"ddm1","x":94,"n":-0.12,"a":-0.22,"b":-0.24,"c":-0.28,"d":-0.3},
{"m":"H3K27me3","g":"ddm1","x":100,"n":-0.13,"a":-0.27,"b":-0.3,"c":-0.29,"d":-0.33},
{"m":"H3K36me3","g":"WT","x":0,"n":-0.5,"a":-0.55,"b":-0.55,"c":-0.58,"d":-0.7},
{"m":"H3K36me3","g":"WT","x":5,"n":-0.47,"a":-0.57,"b":-0.56,"c":-0.56,"d":-0.72},
{"m":"H3K36me3","g":"WT","x":10,"n":-0.5,"a":-0.62,"b":-0.6,"c":-0.62,"d":-0.66},
{"m":"H3K36me3","g":"WT","x":13,"n":-0.6,"a":-0.72,"b":-0.7,"c":-0.72,"d":-0.72},
{"m":"H3K36me3","g":"WT","x":17,"n":-0.66,"a":-0.78,"b":-0.77,"c":-0.77,"d":-0.8},
{"m":"H3K36me3","g":"WT","x":23,"n":-0.68,"a":-0.78,"b":-0.77,"c":-0.76,"d":-0.83},
{"m":"H3K36me3","g":"WT","x":30,"n":-0.68,"a":-0.76,"b":-0.76,"c":-0.76,"d":-0.82},
{"m":"H3K36me3","g":"WT","x":38,"n":-0.68,"a":-0.76,"b":-0.75,"c":-0.77,"d":-0.83},
{"m":"H3K36me3","g":"WT","x":46,"n":-0.68,"a":-0.75,"b":-0.74,"c":-0.76,"d":-0.85},
{"m":"H3K36me3","g":"WT","x":54,"n":-0.68,"a":-0.74,"b":-0.74,"c":-0.75,"d":-0.85},
{"m":"H3K36me3","g":"WT","x":62,"n":-0.68,"a":-0.74,"b":-0.75,"c":-0.76,"d":-0.84},
{"m":"H3K36me3","g":"WT","x":70,"n":-0.68,"a":-0.73,"b":-0.75,"c":-0.77,"d":-0.82},
{"m":"H3K36me3","g":"WT","x":77,"n":-0.68,"a":-0.73,"b":-0.74,"c":-0.78,"d":-0.82},
{"m":"H3K36me3","g":"WT","x":83,"n":-0.67,"a":-0.72,"b":-0.72,"c":-0.8,"d":-0.8},
{"m":"H3K36me3","g":"WT","x":88,"n":-0.6,"a":-0.58,"b":-0.55,"c":-0.65,"d":-0.65},
{"m":"H3K36me3","g":"WT","x":94,"n":-0.49,"a":-0.5,"b":-0.53,"c":-0.55,"d":-0.58},
{"m":"H3K36me3","g":"WT","x":100,"n":-0.49,"a":-0.57,"b":-0.58,"c":-0.56,"d":-0.58},
{"m":"H3K36me3","g":"ddm1","x":0,"n":-0.36,"a":-0.26,"b":-0.2,"c":-0.12,"d":0.02},
{"m":"H3K36me3","g":"ddm1","x":5,"n":-0.37,"a":-0.23,"b":-0.17,"c":0,"d":0.18},
{"m":"H3K36me3","g":"ddm1","x":10,"n":-0.4,"a":-0.22,"b":-0.13,"c":0.08,"d":0.3},
{"m":"H3K36me3","g":"ddm1","x":13,"n":-0.45,"a":-0.25,"b":-0.14,"c":0.1,"d":0.34},
{"m":"H3K36me3","g":"ddm1","x":17,"n":-0.49,"a":-0.28,"b":-0.17,"c":0.09,"d":0.33},
{"m":"H3K36me3","g":"ddm1","x":23,"n":-0.5,"a":-0.3,"b":-0.19,"c":0.06,"d":0.32},
{"m":"H3K36me3","g":"ddm1","x":30,"n":-0.51,"a":-0.32,"b":-0.21,"c":0.04,"d":0.28},
{"m":"H3K36me3","g":"ddm1","x":38,"n":-0.51,"a":-0.34,"b":-0.23,"c":0.02,"d":0.24},
{"m":"H3K36me3","g":"ddm1","x":46,"n":-0.51,"a":-0.35,"b":-0.24,"c":-0.01,"d":0.2},
{"m":"H3K36me3","g":"ddm1","x":54,"n":-0.51,"a":-0.35,"b":-0.25,"c":-0.03,"d":0.16},
{"m":"H3K36me3","g":"ddm1","x":62,"n":-0.51,"a":-0.36,"b":-0.26,"c":-0.06,"d":0.12},
{"m":"H3K36me3","g":"ddm1","x":70,"n":-0.51,"a":-0.37,"b":-0.27,"c":-0.09,"d":0.08},
{"m":"H3K36me3","g":"ddm1","x":77,"n":-0.51,"a":-0.37,"b":-0.29,"c":-0.12,"d":0.05},
{"m":"H3K36me3","g":"ddm1","x":83,"n":-0.5,"a":-0.38,"b":-0.33,"c":-0.16,"d":0},
{"m":"H3K36me3","g":"ddm1","x":88,"n":-0.47,"a":-0.37,"b":-0.3,"c":-0.22,"d":0.03},
{"m":"H3K36me3","g":"ddm1","x":94,"n":-0.38,"a":-0.28,"b":-0.23,"c":-0.18,"d":0},
{"m":"H3K36me3","g":"ddm1","x":100,"n":-0.37,"a":-0.25,"b":-0.25,"c":-0.18,"d":-0.05}
]},
"transform":[{"fold":["n","a","b","c","d"],"as":["k","y"]}],
"resolve":{"scale":{"color":"independent"},"legend":{"color":"independent"}},
"spacing":24,
"vconcat":[
{"title":{"text":"A","dx":-6},"spacing":0,
"resolve":{"scale":{"color":"independent"},"legend":{"color":"independent"}},
"vconcat":[
{"transform":[{"filter":"datum.m=='H2A.X'"}],
"facet":{"column":{"field":"k","type":"nominal","sort":["n","a","b","c","d"],"header":{"title":null,"labelExpr":"datum.value=='n'?'No expression':datum.value=='a'?'1st':datum.value=='b'?'2nd':datum.value=='c'?'3rd':'4th'","labelFontSize":10,"labelPadding":4}},
"row":{"field":"m","type":"nominal","header":{"title":null,"labelOrient":"right","labelAngle":0,"labelFontSize":9,"labelPadding":2}}},
"spacing":{"column":4},
"spec":{"width":128,"height":82,"layer":[
{"transform":[{"filter":"datum.x==0 && datum.g=='WT'"}],"mark":{"type":"rule","color":"#8a8a8a","strokeWidth":0.8,"strokeDash":[5,3]},"encoding":{"x":{"datum":12.8,"type":"quantitative"}}},
{"transform":[{"filter":"datum.x==0 && datum.g=='WT'"}],"mark":{"type":"rule","color":"#8a8a8a","strokeWidth":0.8,"strokeDash":[5,3]},"encoding":{"x":{"datum":87.6,"type":"quantitative"}}},
{"mark":{"type":"line","strokeWidth":1.6,"clip":true},"encoding":{
"x":{"field":"x","type":"quantitative","scale":{"domain":[0,100],"nice":false,"zero":false},"axis":{"values":[0,12.8,87.6,100],"labels":false,"title":null,"grid":false,"domain":false,"tickSize":3}},
"y":{"field":"y","type":"quantitative","scale":{"domain":[-0.46,0.18],"nice":false,"zero":false},"axis":{"values":[0,-0.2,-0.4],"format":".1f","title":"log2 ChIP / Input","grid":false,"domain":false,"tickSize":3,"labelFontSize":10,"titleFontSize":10,"titleFontWeight":"normal","titlePadding":5,"labelPadding":2}},
"color":{"field":"g","type":"nominal","scale":{"domain":["WT","ddm1"],"range":["#969696","#a52a2a"]},"legend":{"orient":"none","legendX":21,"legendY":50,"title":null,"symbolType":"stroke","symbolSize":250,"symbolStrokeWidth":1.6,"labelFontSize":9,"rowPadding":-2,"labelFontStyle":{"expr":"datum.value=='ddm1'?'italic':'normal'"}}}}}
]}},
{"transform":[{"filter":"datum.m=='H2A.W.6'"}],
"facet":{"column":{"field":"k","type":"nominal","sort":["n","a","b","c","d"],"header":{"labels":false,"title":null}},
"row":{"field":"m","type":"nominal","header":{"title":null,"labelOrient":"right","labelAngle":0,"labelFontSize":9,"labelPadding":2}}},
"spacing":{"column":4},
"spec":{"width":128,"height":82,"layer":[
{"transform":[{"filter":"datum.x==0 && datum.g=='WT'"}],"mark":{"type":"rule","color":"#8a8a8a","strokeWidth":0.8,"strokeDash":[5,3]},"encoding":{"x":{"datum":12.8,"type":"quantitative"}}},
{"transform":[{"filter":"datum.x==0 && datum.g=='WT'"}],"mark":{"type":"rule","color":"#8a8a8a","strokeWidth":0.8,"strokeDash":[5,3]},"encoding":{"x":{"datum":87.6,"type":"quantitative"}}},
{"mark":{"type":"line","strokeWidth":1.6,"clip":true},"encoding":{
"x":{"field":"x","type":"quantitative","scale":{"domain":[0,100],"nice":false,"zero":false},"axis":{"values":[0,12.8,87.6,100],"labels":false,"title":null,"grid":false,"domain":false,"tickSize":3}},
"y":{"field":"y","type":"quantitative","scale":{"domain":[-1.04,0.82],"nice":false,"zero":false},"axis":{"values":[0.5,0,-0.5,-1],"format":".1f","title":"log2 ChIP / Input","grid":false,"domain":false,"tickSize":3,"labelFontSize":10,"titleFontSize":10,"titleFontWeight":"normal","titlePadding":5,"labelPadding":2}},
"color":{"field":"g","type":"nominal","scale":{"domain":["WT","ddm1"],"range":["#969696","#a52a2a"]},"legend":null}}}
]}},
{"transform":[{"filter":"datum.m=='H2A.W.7'"}],
"facet":{"column":{"field":"k","type":"nominal","sort":["n","a","b","c","d"],"header":{"labels":false,"title":null}},
"row":{"field":"m","type":"nominal","header":{"title":null,"labelOrient":"right","labelAngle":0,"labelFontSize":9,"labelPadding":2}}},
"spacing":{"column":4},
"spec":{"width":128,"height":82,"layer":[
{"transform":[{"filter":"datum.x==0 && datum.g=='WT'"}],"mark":{"type":"rule","color":"#8a8a8a","strokeWidth":0.8,"strokeDash":[5,3]},"encoding":{"x":{"datum":12.8,"type":"quantitative"}}},
{"transform":[{"filter":"datum.x==0 && datum.g=='WT'"}],"mark":{"type":"rule","color":"#8a8a8a","strokeWidth":0.8,"strokeDash":[5,3]},"encoding":{"x":{"datum":87.6,"type":"quantitative"}}},
{"mark":{"type":"line","strokeWidth":1.6,"clip":true},"encoding":{
"x":{"field":"x","type":"quantitative","scale":{"domain":[0,100],"nice":false,"zero":false},"axis":{"values":[0,12.8,87.6,100],"labels":false,"title":null,"grid":false,"domain":false,"tickSize":3}},
"y":{"field":"y","type":"quantitative","scale":{"domain":[-0.075,0.39],"nice":false,"zero":false},"axis":{"values":[0.3,0.2,0.1,0],"format":".1f","title":"log2 ChIP / Input","grid":false,"domain":false,"tickSize":3,"labelFontSize":10,"titleFontSize":10,"titleFontWeight":"normal","titlePadding":5,"labelPadding":2}},
"color":{"field":"g","type":"nominal","scale":{"domain":["WT","ddm1"],"range":["#969696","#a52a2a"]},"legend":null}}}
]}},
{"transform":[{"filter":"datum.m=='H2A.Z.9'"}],
"facet":{"column":{"field":"k","type":"nominal","sort":["n","a","b","c","d"],"header":{"labels":false,"title":null}},
"row":{"field":"m","type":"nominal","header":{"title":null,"labelOrient":"right","labelAngle":0,"labelFontSize":9,"labelPadding":2}}},
"spacing":{"column":4},
"spec":{"width":128,"height":82,"layer":[
{"transform":[{"filter":"datum.x==0 && datum.g=='WT'"}],"mark":{"type":"rule","color":"#8a8a8a","strokeWidth":0.8,"strokeDash":[5,3]},"encoding":{"x":{"datum":12.8,"type":"quantitative"}}},
{"transform":[{"filter":"datum.x==0 && datum.g=='WT'"}],"mark":{"type":"rule","color":"#8a8a8a","strokeWidth":0.8,"strokeDash":[5,3]},"encoding":{"x":{"datum":87.6,"type":"quantitative"}}},
{"mark":{"type":"line","strokeWidth":1.6,"clip":true},"encoding":{
"x":{"field":"x","type":"quantitative","scale":{"domain":[0,100],"nice":false,"zero":false},"axis":{"values":[0,12.8,87.6,100],"labels":false,"title":null,"grid":false,"domain":false,"tickSize":3}},
"y":{"field":"y","type":"quantitative","scale":{"domain":[-0.65,0.08],"nice":false,"zero":false},"axis":{"values":[0,-0.2,-0.4,-0.6],"format":".1f","title":"log2 ChIP / Input","grid":false,"domain":false,"tickSize":3,"labelFontSize":10,"titleFontSize":10,"titleFontWeight":"normal","titlePadding":5,"labelPadding":2}},
"color":{"field":"g","type":"nominal","scale":{"domain":["WT","ddm1"],"range":["#969696","#a52a2a"]},"legend":null}}}
]}},
{"transform":[{"filter":"datum.m=='H2A.Z.11'"}],
"facet":{"column":{"field":"k","type":"nominal","sort":["n","a","b","c","d"],"header":{"labels":false,"title":null}},
"row":{"field":"m","type":"nominal","header":{"title":null,"labelOrient":"right","labelAngle":0,"labelFontSize":9,"labelPadding":2}}},
"spacing":{"column":4},
"spec":{"width":128,"height":82,"layer":[
{"transform":[{"filter":"datum.x==0 && datum.g=='WT'"}],"mark":{"type":"rule","color":"#8a8a8a","strokeWidth":0.8,"strokeDash":[5,3]},"encoding":{"x":{"datum":12.8,"type":"quantitative"}}},
{"transform":[{"filter":"datum.x==0 && datum.g=='WT'"}],"mark":{"type":"rule","color":"#8a8a8a","strokeWidth":0.8,"strokeDash":[5,3]},"encoding":{"x":{"datum":87.6,"type":"quantitative"}}},
{"mark":{"type":"line","strokeWidth":1.6,"clip":true},"encoding":{
"x":{"field":"x","type":"quantitative","scale":{"domain":[0,100],"nice":false,"zero":false},"axis":{"values":[0,12.8,87.6,100],"labels":false,"title":null,"grid":false,"domain":false,"tickSize":3}},
"y":{"field":"y","type":"quantitative","scale":{"domain":[-0.93,0.14],"nice":false,"zero":false},"axis":{"values":[0,-0.2,-0.4,-0.6,-0.8],"format":".1f","title":"log2 ChIP / Input","grid":false,"domain":false,"tickSize":3,"labelFontSize":10,"titleFontSize":10,"titleFontWeight":"normal","titlePadding":5,"labelPadding":2}},
"color":{"field":"g","type":"nominal","scale":{"domain":["WT","ddm1"],"range":["#969696","#a52a2a"]},"legend":null}}}
]}},
{"transform":[{"filter":"datum.m=='H1'"}],
"facet":{"column":{"field":"k","type":"nominal","sort":["n","a","b","c","d"],"header":{"labels":false,"title":null}},
"row":{"field":"m","type":"nominal","header":{"title":null,"labelOrient":"right","labelAngle":0,"labelFontSize":9,"labelPadding":2}}},
"spacing":{"column":4},
"spec":{"width":128,"height":82,"layer":[
{"transform":[{"filter":"datum.x==0 && datum.g=='WT'"}],"mark":{"type":"rule","color":"#8a8a8a","strokeWidth":0.8,"strokeDash":[5,3]},"encoding":{"x":{"datum":12.8,"type":"quantitative"}}},
{"transform":[{"filter":"datum.x==0 && datum.g=='WT'"}],"mark":{"type":"rule","color":"#8a8a8a","strokeWidth":0.8,"strokeDash":[5,3]},"encoding":{"x":{"datum":87.6,"type":"quantitative"}}},
{"mark":{"type":"line","strokeWidth":1.6,"clip":true},"encoding":{
"x":{"field":"x","type":"quantitative","scale":{"domain":[0,100],"nice":false,"zero":false},"axis":{"values":[0,12.8,87.6,100],"labelExpr":"datum.value==12.8?'TSS':datum.value==87.6?'TTS':''","title":null,"grid":false,"domain":false,"tickSize":3,"labelFontSize":10,"labelPadding":2}},
"y":{"field":"y","type":"quantitative","scale":{"domain":[-0.4,0.33],"nice":false,"zero":false},"axis":{"values":[0.2,0,-0.2],"format":".1f","title":"log2 ChIP / Input","grid":false,"domain":false,"tickSize":3,"labelFontSize":10,"titleFontSize":10,"titleFontWeight":"normal","titlePadding":5,"labelPadding":2}},
"color":{"field":"g","type":"nominal","scale":{"domain":["WT","ddm1"],"range":["#969696","#a52a2a"]},"legend":null}}}
]}}
]},
{"title":{"text":"B","dx":-6},"spacing":0,
"resolve":{"scale":{"color":"independent"},"legend":{"color":"independent"}},
"vconcat":[
{"transform":[{"filter":"datum.m=='H3K9me1'"}],
"facet":{"column":{"field":"k","type":"nominal","sort":["n","a","b","c","d"],"header":{"title":null,"labelExpr":"datum.value=='n'?'No expression':datum.value=='a'?'1st':datum.value=='b'?'2nd':datum.value=='c'?'3rd':'4th'","labelFontSize":10,"labelPadding":4}},
"row":{"field":"m","type":"nominal","header":{"title":null,"labelOrient":"right","labelAngle":0,"labelFontSize":9,"labelPadding":2}}},
"spacing":{"column":4},
"spec":{"width":128,"height":80,"layer":[
{"transform":[{"filter":"datum.x==0 && datum.g=='WT'"}],"mark":{"type":"rule","color":"#8a8a8a","strokeWidth":0.8,"strokeDash":[5,3]},"encoding":{"x":{"datum":12.8,"type":"quantitative"}}},
{"transform":[{"filter":"datum.x==0 && datum.g=='WT'"}],"mark":{"type":"rule","color":"#8a8a8a","strokeWidth":0.8,"strokeDash":[5,3]},"encoding":{"x":{"datum":87.6,"type":"quantitative"}}},
{"mark":{"type":"line","strokeWidth":1.6,"clip":true},"encoding":{
"x":{"field":"x","type":"quantitative","scale":{"domain":[0,100],"nice":false,"zero":false},"axis":{"values":[0,12.8,87.6,100],"labels":false,"title":null,"grid":false,"domain":false,"tickSize":3}},
"y":{"field":"y","type":"quantitative","scale":{"domain":[-0.06,0.64],"nice":false,"zero":false},"axis":{"values":[0.6,0.4,0.2,0],"format":".1f","title":"log2 ChIP / Input","grid":false,"domain":false,"tickSize":3,"labelFontSize":10,"titleFontSize":10,"titleFontWeight":"normal","titlePadding":5,"labelPadding":2}},
"color":{"field":"g","type":"nominal","scale":{"domain":["WT","ddm1"],"range":["#969696","#a52a2a"]},"legend":null}}}
]}},
{"transform":[{"filter":"datum.m=='H3K9me2'"}],
"facet":{"column":{"field":"k","type":"nominal","sort":["n","a","b","c","d"],"header":{"labels":false,"title":null}},
"row":{"field":"m","type":"nominal","header":{"title":null,"labelOrient":"right","labelAngle":0,"labelFontSize":9,"labelPadding":2}}},
"spacing":{"column":4},
"spec":{"width":128,"height":80,"layer":[
{"transform":[{"filter":"datum.x==0 && datum.g=='WT'"}],"mark":{"type":"rule","color":"#8a8a8a","strokeWidth":0.8,"strokeDash":[5,3]},"encoding":{"x":{"datum":12.8,"type":"quantitative"}}},
{"transform":[{"filter":"datum.x==0 && datum.g=='WT'"}],"mark":{"type":"rule","color":"#8a8a8a","strokeWidth":0.8,"strokeDash":[5,3]},"encoding":{"x":{"datum":87.6,"type":"quantitative"}}},
{"mark":{"type":"line","strokeWidth":1.6,"clip":true},"encoding":{
"x":{"field":"x","type":"quantitative","scale":{"domain":[0,100],"nice":false,"zero":false},"axis":{"values":[0,12.8,87.6,100],"labels":false,"title":null,"grid":false,"domain":false,"tickSize":3}},
"y":{"field":"y","type":"quantitative","scale":{"domain":[-0.62,1.62],"nice":false,"zero":false},"axis":{"values":[1.5,1,0.5,0,-0.5],"format":".1f","title":"log2 ChIP / Input","grid":false,"domain":false,"tickSize":3,"labelFontSize":10,"titleFontSize":10,"titleFontWeight":"normal","titlePadding":5,"labelPadding":2}},
"color":{"field":"g","type":"nominal","scale":{"domain":["WT","ddm1"],"range":["#969696","#a52a2a"]},"legend":null}}}
]}},
{"transform":[{"filter":"datum.m=='H3K27me3'"}],
"facet":{"column":{"field":"k","type":"nominal","sort":["n","a","b","c","d"],"header":{"labels":false,"title":null}},
"row":{"field":"m","type":"nominal","header":{"title":null,"labelOrient":"right","labelAngle":0,"labelFontSize":9,"labelPadding":2}}},
"spacing":{"column":4},
"spec":{"width":128,"height":80,"layer":[
{"transform":[{"filter":"datum.x==0 && datum.g=='WT'"}],"mark":{"type":"rule","color":"#8a8a8a","strokeWidth":0.8,"strokeDash":[5,3]},"encoding":{"x":{"datum":12.8,"type":"quantitative"}}},
{"transform":[{"filter":"datum.x==0 && datum.g=='WT'"}],"mark":{"type":"rule","color":"#8a8a8a","strokeWidth":0.8,"strokeDash":[5,3]},"encoding":{"x":{"datum":87.6,"type":"quantitative"}}},
{"mark":{"type":"line","strokeWidth":1.6,"clip":true},"encoding":{
"x":{"field":"x","type":"quantitative","scale":{"domain":[0,100],"nice":false,"zero":false},"axis":{"values":[0,12.8,87.6,100],"labels":false,"title":null,"grid":false,"domain":false,"tickSize":3}},
"y":{"field":"y","type":"quantitative","scale":{"domain":[-0.84,-0.08],"nice":false,"zero":false},"axis":{"values":[-0.2,-0.4,-0.6,-0.8],"format":".1f","title":"log2 ChIP / Input","grid":false,"domain":false,"tickSize":3,"labelFontSize":10,"titleFontSize":10,"titleFontWeight":"normal","titlePadding":5,"labelPadding":2}},
"color":{"field":"g","type":"nominal","scale":{"domain":["WT","ddm1"],"range":["#969696","#a52a2a"]},"legend":null}}}
]}},
{"transform":[{"filter":"datum.m=='H3K36me3'"}],
"facet":{"column":{"field":"k","type":"nominal","sort":["n","a","b","c","d"],"header":{"labels":false,"title":null}},
"row":{"field":"m","type":"nominal","header":{"title":null,"labelOrient":"right","labelAngle":0,"labelFontSize":9,"labelPadding":2}}},
"spacing":{"column":4},
"spec":{"width":128,"height":80,"layer":[
{"transform":[{"filter":"datum.x==0 && datum.g=='WT'"}],"mark":{"type":"rule","color":"#8a8a8a","strokeWidth":0.8,"strokeDash":[5,3]},"encoding":{"x":{"datum":12.8,"type":"quantitative"}}},
{"transform":[{"filter":"datum.x==0 && datum.g=='WT'"}],"mark":{"type":"rule","color":"#8a8a8a","strokeWidth":0.8,"strokeDash":[5,3]},"encoding":{"x":{"datum":87.6,"type":"quantitative"}}},
{"mark":{"type":"line","strokeWidth":1.6,"clip":true},"encoding":{
"x":{"field":"x","type":"quantitative","scale":{"domain":[0,100],"nice":false,"zero":false},"axis":{"values":[0,12.8,87.6,100],"labelExpr":"datum.value==12.8?'TSS':datum.value==87.6?'TTS':''","title":null,"grid":false,"domain":false,"tickSize":3,"labelFontSize":10,"labelPadding":2}},
"y":{"field":"y","type":"quantitative","scale":{"domain":[-0.9,0.41],"nice":false,"zero":false},"axis":{"values":[0.25,0,-0.25,-0.5,-0.75],"format":".2f","title":"log2 ChIP / Input","grid":false,"domain":false,"tickSize":3,"labelFontSize":10,"titleFontSize":10,"titleFontWeight":"normal","titlePadding":5,"labelPadding":2}},
"color":{"field":"g","type":"nominal","scale":{"domain":["WT","ddm1"],"range":["#969696","#a52a2a"]},"legend":{"orient":"none","legendX":18,"legendY":-3,"title":null,"symbolType":"stroke","symbolSize":250,"symbolStrokeWidth":1.6,"labelFontSize":9,"rowPadding":-2,"labelFontStyle":{"expr":"datum.value=='ddm1'?'italic':'normal'"}}}}}
]}}
]}
],
"config":{"font":"Liberation Sans","view":{"stroke":"#000","strokeWidth":1.2},
"axis":{"labelColor":"#000","titleColor":"#000","tickColor":"#000","labelFont":"Liberation Sans","titleFont":"Liberation Sans"},
"header":{"labelColor":"#000","labelFont":"Liberation Sans"},
"legend":{"labelColor":"#000","labelFont":"Liberation Sans"},
"title":{"anchor":"start","fontSize":18,"fontWeight":"bold","font":"Liberation Sans","color":"#000","offset":4}}
}
